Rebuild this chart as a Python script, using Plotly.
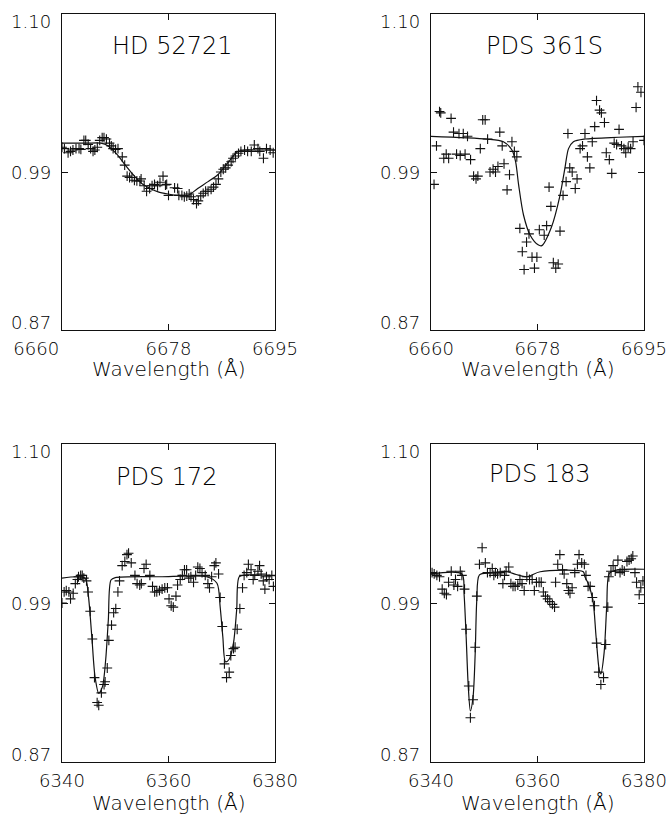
import plotly.graph_objects as go

# ---------------- data ----------------
# Panel 1: HD 52721 (observed)
wl1 = [6660.0, 6660.4, 6661.0, 6661.4, 6661.8, 6662.3, 6662.8, 6663.1, 6663.6, 6663.9,
       6664.3, 6664.7, 6665.1, 6665.4, 6665.8, 6666.2, 6666.6, 6666.9, 6667.3, 6667.8,
       6668.1, 6668.4, 6668.8, 6669.2, 6669.9, 6670.3, 6670.7, 6671.1, 6671.5, 6671.9,
       6672.3, 6672.8, 6673.0, 6673.5, 6673.9, 6674.4, 6674.8, 6675.2, 6675.7, 6676.1,
       6676.6, 6677.0, 6677.2, 6677.5, 6678.5, 6679.0, 6679.2, 6679.7, 6680.1, 6680.5,
       6680.9, 6681.2, 6681.6, 6682.1, 6682.4, 6682.8, 6683.2, 6683.6, 6684.0, 6684.5,
       6684.9, 6685.3, 6685.7, 6686.1, 6686.5, 6686.9, 6687.3, 6687.8, 6688.1, 6688.5,
       6689.0, 6689.4, 6690.0, 6690.5, 6691.1, 6691.6, 6692.2, 6692.5, 6693.1, 6693.6,
       6694.2, 6694.7]
fl1 = [1.003, 1.002, 0.999, 1.000, 1.001, 1.002, 1.002, 1.0015, 1.008, 1.008,
       1.005, 1.002, 1.000, 1.001, 1.003, 1.008, 1.010, 1.010, 1.009, 1.006,
       1.004, 1.002, 1.0015, 1.002, 0.996, 0.990, 0.982, 0.981, 0.981, 0.979,
       0.9785, 0.9785, 0.980, 0.975, 0.971, 0.973, 0.975, 0.976, 0.975, 0.9775,
       0.982, 0.9755, 0.976, 0.968, 0.9735, 0.973, 0.968, 0.968, 0.967, 0.9675,
       0.969, 0.967, 0.965, 0.962, 0.964, 0.9676, 0.9695, 0.971, 0.971, 0.9724,
       0.974, 0.976, 0.980, 0.985, 0.987, 0.988, 0.990, 0.9925, 0.995, 0.9967,
       0.9986, 1.000, 1.001, 1.000, 1.000, 1.0047, 1.002, 1.000, 0.995, 1.002,
       1.001, 0.999]
# Panel 1 model
mwl1 = [6660, 6664, 6666.4, 6667.6, 6669, 6670.4, 6671.7, 6673, 6674.5, 6675.8,
        6677.4, 6679, 6680.7, 6682.3, 6684, 6685.6, 6687.3, 6688.8, 6690.1, 6692, 6695]
mfl1 = [1.006, 1.006, 1.006, 1.004, 0.998, 0.990, 0.983, 0.977, 0.973, 0.9705,
        0.969, 0.968, 0.968, 0.973, 0.978, 0.983, 0.992, 0.9996, 1.001, 1.001, 1.001]

# Panel 2: PDS 361S
wl2 = [6660.5, 6660.9, 6661.4, 6661.6, 6662.1, 6662.5, 6662.9, 6663.3, 6663.7, 6664.2,
       6664.6, 6664.8, 6665.3, 6665.6, 6666.0, 6666.5, 6667.0, 6667.4, 6667.7, 6668.1,
       6668.5, 6668.9, 6669.3, 6669.7, 6670.2, 6670.6, 6671.0, 6671.3, 6671.7, 6672.0,
       6672.5, 6672.9, 6673.3, 6673.7, 6674.1, 6674.6, 6675.0, 6675.3, 6675.7, 6676.1,
       6676.6, 6677.0, 6677.4, 6677.8, 6678.6, 6679.0, 6679.4, 6679.7, 6680.1, 6680.5,
       6680.9, 6681.2, 6681.7, 6682.2, 6682.5, 6682.8, 6683.2, 6683.7, 6684.0, 6684.5,
       6684.9, 6685.3, 6685.7, 6686.1, 6686.5, 6686.9, 6687.2, 6687.7, 6688.0, 6688.5,
       6688.8, 6689.3, 6689.7, 6690.1, 6690.5, 6690.9, 6691.3, 6691.7, 6692.0, 6692.4,
       6692.8, 6693.2, 6693.7, 6694.0, 6694.5, 6695.0]
fl2 = [0.976, 1.004, 1.029, 1.028, 0.995, 0.998, 0.995, 1.024, 1.014, 0.998,
       1.013, 0.997, 1.013, 0.998, 1.011, 0.994, 0.982, 0.980, 0.982, 1.002,
       1.023, 1.023, 1.009, 0.985, 0.987, 0.985, 0.989, 1.014, 1.004, 0.991,
       0.972, 0.983, 1.007, 1.000, 0.996, 0.944, 0.927, 0.914, 0.934, 0.940,
       0.923, 0.915, 0.923, 0.943, 0.939, 0.946, 0.974, 0.960, 0.919, 0.915,
       0.918, 0.942, 0.968, 0.978, 1.013, 0.988, 0.985, 0.973, 0.980, 1.002,
       1.004, 1.013, 0.996, 0.988, 1.007, 1.018, 1.037, 1.030, 1.028, 1.021,
       0.999, 0.994, 0.984, 1.006, 1.005, 1.016, 1.004, 1.002, 0.999, 1.003,
       1.002, 1.007, 1.032, 1.047, 1.043, 1.008]
mwl2 = [6660, 6669.2, 6671.9, 6673.3, 6673.9, 6674.4, 6675.2, 6676.3, 6677.6, 6678.2,
        6679.8, 6681.2, 6682.0, 6682.6, 6683.4, 6685.3, 6690.8, 6695]
mfl2 = [1.011, 1.009, 1.007, 1.001, 0.9925, 0.9756, 0.9537, 0.939, 0.932, 0.9314,
        0.945, 0.968, 0.9877, 1.002, 1.007, 1.009, 1.0103, 1.011]

# Panel 3: PDS 172
wl3 = [6340.0, 6340.4, 6340.8, 6341.3, 6341.6, 6342.1, 6342.5, 6342.9, 6343.1, 6343.5,
       6343.8, 6344.1, 6344.6, 6344.9, 6345.3, 6345.7, 6346.1, 6346.6, 6346.9, 6347.4,
       6347.9, 6348.1, 6348.5, 6348.8, 6349.3, 6349.7, 6350.1, 6350.5, 6350.8, 6351.3,
       6351.8, 6352.2, 6352.5, 6353.0, 6353.7, 6354.1, 6354.6, 6354.9, 6355.4, 6355.8,
       6356.5, 6357.0, 6357.4, 6357.8, 6358.3, 6358.8, 6359.3, 6359.8, 6360.1, 6360.5,
       6360.9, 6361.4, 6361.7, 6362.2, 6362.6, 6363.0, 6363.4, 6363.8, 6364.2, 6364.7,
       6365.1, 6365.5, 6365.9, 6366.3, 6366.9, 6367.4, 6367.7, 6368.1, 6368.6, 6368.9,
       6369.4, 6369.7, 6370.1, 6370.5, 6370.9, 6371.4, 6371.7, 6372.2, 6372.5, 6372.9,
       6373.4, 6373.9, 6374.2, 6374.7, 6375.0, 6375.5, 6375.9, 6376.2, 6376.8, 6377.1,
       6377.4, 6377.8, 6378.1, 6378.4, 6378.9, 6379.4, 6379.7]
fl3 = [0.985, 0.993, 0.994, 0.993, 0.988, 0.992, 0.999, 1.002, 1.004, 1.005,
       1.005, 1.003, 1.001, 0.993, 0.979, 0.959, 0.931, 0.913, 0.911, 0.920,
       0.926, 0.928, 0.938, 0.958, 0.969, 0.978, 0.981, 0.993, 1.001, 1.012,
       1.015, 1.020, 1.021, 1.014, 1.005, 0.999, 0.998, 0.999, 1.010, 1.013,
       1.005, 0.997, 0.993, 0.993, 0.994, 0.995, 0.996, 0.996, 0.988, 0.983,
       0.982, 0.990, 0.998, 1.002, 1.005, 1.009, 1.009, 1.003, 1.004, 1.000,
       1.005, 1.011, 1.010, 1.007, 1.005, 0.999, 0.996, 1.004, 1.012, 1.014,
       1.006, 0.989, 0.968, 0.941, 0.931, 0.935, 0.947, 0.952, 0.953, 0.966,
       0.981, 0.996, 1.005, 1.007, 1.013, 1.009, 1.002, 1.005, 1.008, 1.012,
       1.006, 1.001, 0.995, 1.004, 1.002, 1.005, 0.997]
mwl3 = [6340, 6344.3, 6344.9, 6345.6, 6346.2, 6346.9, 6347.6, 6348.2, 6348.7, 6349.2,
        6350.0, 6358.4, 6367.2, 6369.1, 6369.7, 6370.2, 6370.7, 6371.4, 6372.2, 6372.8,
        6373.3, 6374.7, 6380]
mfl3 = [1.003, 1.003, 0.992, 0.9606, 0.9317, 0.9197, 0.9245, 0.9438, 0.9727, 1.0016,
        1.0033, 1.004, 1.004, 0.9993, 0.9823, 0.9606, 0.9425, 0.9443, 0.9559, 0.9799,
        1.004, 1.0053, 1.0047]

# Panel 4: PDS 183
wl4 = [6340.2, 6340.6, 6341.1, 6341.6, 6342.1, 6342.5, 6342.9, 6343.3, 6343.8, 6344.3,
       6344.6, 6345.0, 6345.5, 6345.8, 6346.3, 6346.6, 6347.1, 6347.4, 6347.9, 6348.3,
       6348.6, 6349.1, 6349.6, 6350.2, 6350.6, 6351.1, 6351.5, 6351.8, 6352.1, 6352.5,
       6353.0, 6353.5, 6353.8, 6354.1, 6354.6, 6355.0, 6355.4, 6355.8, 6356.3, 6356.7,
       6357.1, 6357.5, 6358.0, 6358.5, 6359.0, 6359.4, 6359.8, 6360.3, 6360.7, 6361.1,
       6361.5, 6361.9, 6362.3, 6362.8, 6363.2, 6363.4, 6363.8, 6364.2, 6364.7, 6365.0,
       6365.5, 6365.8, 6366.1, 6366.5, 6367.0, 6367.5, 6367.8, 6368.3, 6368.8, 6369.1,
       6369.5, 6369.9, 6370.3, 6370.7, 6371.1, 6371.5, 6371.9, 6372.4, 6372.8, 6373.2,
       6373.4, 6373.8, 6374.2, 6374.6, 6375.1, 6375.5, 6375.9, 6376.3, 6376.8, 6377.2,
       6377.6, 6377.9, 6378.3, 6378.6, 6379.1, 6379.4, 6379.8]
fl4 = [1.007, 1.006, 1.005, 1.004, 0.995, 0.992, 0.991, 1.000, 1.008, 0.998,
       1.002, 0.997, 1.008, 1.005, 0.995, 0.966, 0.925, 0.902, 0.915, 0.953,
       0.990, 1.013, 1.025, 1.014, 1.007, 1.007, 1.010, 1.005, 1.007, 1.006,
       1.007, 0.999, 1.005, 1.008, 1.011, 0.999, 0.997, 0.997, 0.998, 1.002,
       0.999, 0.994, 1.004, 1.002, 1.002, 0.994, 1.000, 1.000, 1.000, 0.993,
       0.990, 0.988, 0.986, 0.984, 0.982, 1.000, 1.013, 1.020, 1.009, 1.006,
       0.999, 0.994, 0.992, 0.996, 1.007, 1.013, 1.020, 1.014, 1.013, 1.005,
       0.997, 0.997, 0.989, 0.983, 0.956, 0.935, 0.926, 0.931, 0.955, 0.982,
       1.004, 1.008, 1.012, 1.008, 1.016, 1.007, 1.009, 1.008, 1.015, 1.016,
       1.017, 1.019, 1.007, 1.000, 0.991, 0.996, 1.001]
mwl4 = [6340, 6345.8, 6346.2, 6346.6, 6347.0, 6347.4, 6347.9, 6348.3, 6348.6, 6349.1,
        6351.1, 6354.2, 6356.0, 6358.0, 6360.5, 6368.6, 6368.9, 6369.5, 6370.4, 6371.0,
        6371.6, 6371.9, 6372.5, 6373.0, 6373.5, 6374.9, 6380]
mfl4 = [1.006, 1.006, 0.992, 0.9606, 0.9245, 0.9069, 0.9172, 0.9486, 0.9872, 1.0053,
        1.0067, 1.0076, 1.0056, 1.004, 1.0076, 1.0076, 1.004, 0.9993, 0.9872, 0.9606,
        0.9365, 0.9337, 0.9486, 0.9823, 1.0065, 1.0089, 1.0094]

names = ["HD 52721", "PDS 361S", "PDS 172", "PDS 183"]
y_range = [0.87, 1.10]
y_tickvals = [0.87, 0.985, 1.10]
y_ticktext = ["0.87", "0.99", "1.10"]
xr_top = [6660, 6695]
xt_top = [6660, 6677.5, 6695]
xl_top = ["6660", "6678", "6695"]
xr_bot = [6340, 6380]
xt_bot = [6340, 6360, 6380]
xl_bot = ["6340", "6360", "6380"]
xlabel = "Wavelength (Å)"

# ---------------- figure ----------------
FONT = "DejaVu Sans ExtraLight, DejaVu Sans"
INK = "#111111"
W, H = 672, 819

obs = [(wl1, fl1), (wl2, fl2), (wl3, fl3), (wl4, fl4)]
mod = [(mwl1, mfl1), (mwl2, mfl2), (mwl3, mfl3), (mwl4, mfl4)]

fig = go.Figure()
for i in range(4):
    ax = "" if i == 0 else str(i + 1)
    fig.add_trace(go.Scatter(x=mod[i][0], y=mod[i][1], mode="lines",
                             line=dict(color=INK, width=1.2, shape="spline", smoothing=0.8),
                             xaxis="x" + ax, yaxis="y" + ax, showlegend=False,
                             hoverinfo="skip"))
    fig.add_trace(go.Scatter(x=obs[i][0], y=obs[i][1], mode="markers",
                             marker=dict(symbol="cross-thin", size=7,
                                         line=dict(color=INK, width=1.1)),
                             xaxis="x" + ax, yaxis="y" + ax, showlegend=False))

# frame positions in pixels
left_x = [(62, 275), (431, 644)]
top_y = [(14, 330), (444, 762)]

def xdom(px):
    return [px[0] / W, px[1] / W]

def ydom(py):
    return [1 - py[1] / H, 1 - py[0] / H]

TXT = dict(family=FONT, color="#000000", weight=200)
axis_common = dict(showline=True, linecolor=INK, linewidth=1.3, mirror="ticks",
                   ticks="inside", ticklen=6, tickwidth=1.1, tickcolor=INK,
                   showgrid=False, zeroline=False, automargin=False,
                   tickfont=dict(TXT, size=18))

title_pos = [(0.521, 0.899), (0.535, 0.899), (0.495, 0.895), (0.512, 0.906)]
xtitle_y = [-0.123, -0.129]
# vertical placement of the y tick labels (IDL draws end labels pulled inward)
ylab_at = [0.8755, 0.985, 1.0945]

layout = dict(width=W, height=H, margin=dict(l=0, r=0, t=0, b=0, autoexpand=False),
              paper_bgcolor="white", plot_bgcolor="white", annotations=[])
for i in range(4):
    row, col = divmod(i, 2)
    ax = "" if i == 0 else str(i + 1)
    if row == 0:
        xr, xt, xl = xr_top, xt_top, list(xl_top)
        if col == 0:
            xl[0] = "6660" + "\u00a0" * 9
    else:
        xr, xt, xl = xr_bot, xt_bot, xl_bot
    layout["xaxis" + ax] = dict(axis_common, domain=xdom(left_x[col]), range=xr,
                                tickvals=xt, ticktext=xl, anchor="y" + ax,
                                ticklabelstandoff=2)
    layout["yaxis" + ax] = dict(axis_common, domain=ydom(top_y[row]), range=y_range,
                                tickvals=y_tickvals, showticklabels=False,
                                anchor="x" + ax)
    for txt, yv in zip(y_ticktext, ylab_at):
        layout["annotations"].append(dict(text=txt, xref="x" + ax + " domain",
                                          yref="y" + ax, x=-0.04, y=yv,
                                          showarrow=False, xanchor="right",
                                          yanchor="middle", font=dict(TXT, size=18)))
    layout["annotations"].append(dict(text=names[i], xref="x" + ax + " domain",
                                      yref="y" + ax + " domain", x=title_pos[i][0],
                                      y=title_pos[i][1], showarrow=False,
                                      xanchor="center", yanchor="middle",
                                      font=dict(TXT, size=24)))
    layout["annotations"].append(dict(text=xlabel, xref="x" + ax + " domain",
                                      yref="y" + ax + " domain", x=0.5,
                                      y=xtitle_y[row], showarrow=False,
                                      xanchor="center", yanchor="middle",
                                      font=dict(TXT, size=20)))

fig.update_layout(**layout)
fig.write_html("out.html")
